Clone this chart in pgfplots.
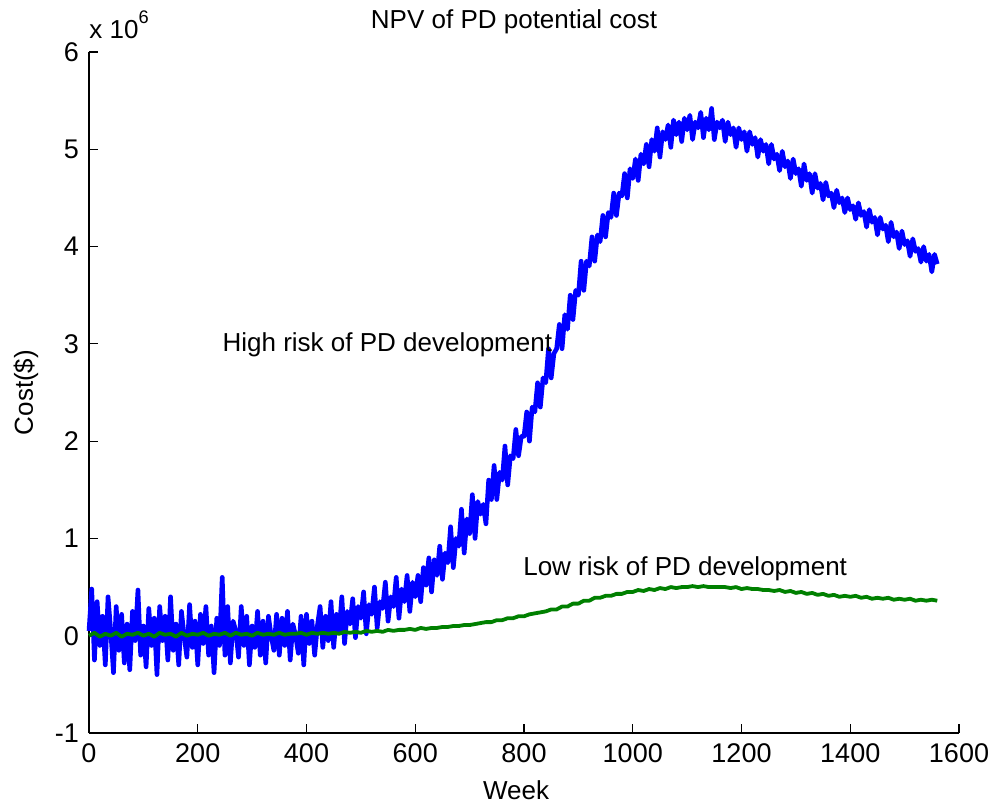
\documentclass[border=0pt]{standalone}
\usepackage{pgfplots}
\pgfplotsset{compat=1.18}
\usepackage{pgfplotstable}
\usepackage{fontspec}
\setmainfont{Liberation Sans}
\definecolor{mblue}{rgb}{0,0,1}
\definecolor{mgreen}{rgb}{0,0.5,0}

\pgfplotstableread{
w v
0 0.05
5 0.48
10 -0.25
15 0.35
20 -0.10
25 0.20
30 -0.30
35 0.40
40 0.05
45 -0.38
50 0.30
55 -0.15
60 0.22
65 -0.28
70 0.12
75 -0.35
80 0.25
85 -0.05
90 0.47
95 -0.20
100 0.10
105 -0.32
110 0.28
115 -0.10
120 0.18
125 -0.40
130 0.30
135 -0.05
140 0.20
145 -0.25
150 0.40
155 -0.15
160 0.12
165 -0.30
170 0.25
175 0.00
180 -0.22
185 0.32
190 -0.12
195 0.15
200 -0.30
205 0.22
210 -0.08
215 0.30
220 -0.20
225 0.10
230 -0.38
235 0.18
240 -0.10
245 0.60
250 -0.20
255 0.30
260 -0.28
265 0.15
270 0.05
275 -0.22
280 0.30
285 -0.10
290 0.20
295 -0.30
300 0.10
305 -0.12
310 0.25
315 -0.20
320 0.15
325 -0.28
330 0.20
335 0.00
340 -0.15
345 0.22
350 -0.20
355 0.18
360 -0.10
365 0.25
370 -0.25
375 0.12
380 0.00
385 -0.18
390 0.20
395 -0.30
400 0.22
405 -0.08
410 0.15
415 -0.20
420 0.10
425 0.30
430 -0.12
435 0.20
440 -0.05
445 0.35
450 -0.12
455 0.22
460 0.05
465 0.40
470 -0.08
475 0.25
480 0.12
485 0.38
490 -0.02
495 0.30
500 0.18
505 0.45
510 0.02
515 0.32
520 0.22
525 0.50
530 0.08
535 0.35
540 0.28
545 0.55
550 0.15
555 0.40
560 0.30
565 0.60
570 0.18
575 0.48
580 0.35
585 0.62
590 0.25
595 0.55
600 0.40
605 0.62
610 0.35
615 0.70
620 0.52
625 0.80
630 0.45
635 0.78
640 0.62
645 0.92
650 0.58
655 0.85
660 0.75
665 1.12
670 0.70
675 1.00
680 0.92
685 1.30
690 0.85
695 1.20
700 1.05
705 1.45
710 1.00
715 1.38
720 1.25
725 1.35
730 1.15
735 1.60
740 1.40
745 1.75
750 1.40
755 1.68
760 1.60
765 1.95
770 1.55
775 1.85
780 1.82
785 2.12
790 1.85
795 2.05
800 2.05
805 2.30
810 2.00
815 2.35
820 2.30
825 2.60
830 2.35
835 2.65
840 2.60
845 2.95
850 2.65
855 2.90
860 2.95
865 3.20
870 2.95
875 3.30
880 3.15
885 3.50
890 3.25
895 3.55
900 3.50
905 3.85
910 3.55
915 3.85
920 3.80
925 4.10
930 3.85
935 4.12
940 4.05
945 4.32
950 4.10
955 4.35
960 4.30
965 4.55
970 4.32
975 4.55
980 4.52
985 4.75
990 4.50
995 4.80
1000 4.70
1005 4.90
1010 4.68
1015 4.95
1020 4.85
1025 5.05
1030 4.82
1035 5.10
1040 4.98
1045 5.22
1050 4.92
1055 5.18
1060 5.10
1065 5.25
1070 5.02
1075 5.30
1080 5.15
1085 5.28
1090 5.08
1095 5.32
1100 5.20
1105 5.35
1110 5.10
1115 5.28
1120 5.22
1125 5.38
1130 5.12
1135 5.32
1140 5.20
1145 5.42
1150 5.10
1155 5.28
1160 5.22
1165 5.30
1170 5.08
1175 5.28
1180 5.15
1185 5.22
1190 5.02
1195 5.22
1200 5.10
1205 5.18
1210 4.98
1215 5.18
1220 5.05
1225 5.12
1230 4.92
1235 5.10
1240 4.98
1245 5.05
1250 4.85
1255 5.05
1260 4.90
1265 4.95
1270 4.78
1275 4.98
1280 4.82
1285 4.88
1290 4.70
1295 4.90
1300 4.75
1305 4.80
1310 4.62
1315 4.85
1320 4.68
1325 4.75
1330 4.55
1335 4.75
1340 4.60
1345 4.65
1350 4.48
1355 4.66
1360 4.52
1365 4.55
1370 4.40
1375 4.58
1380 4.45
1385 4.50
1390 4.35
1395 4.50
1400 4.38
1405 4.42
1410 4.28
1415 4.45
1420 4.32
1425 4.36
1430 4.20
1435 4.38
1440 4.25
1445 4.30
1450 4.12
1455 4.30
1460 4.18
1465 4.22
1470 4.05
1475 4.25
1480 4.10
1485 4.15
1490 3.98
1495 4.16
1500 4.02
1505 4.06
1510 3.90
1515 4.08
1520 3.95
1525 3.98
1530 3.84
1535 4.00
1540 3.85
1545 3.92
1550 3.74
1555 3.92
1560 3.82
}\highrisk

\pgfplotstableread{
w v
0 0.00
10 0.03
20 -0.01
30 0.02
40 0.00
50 0.03
60 -0.01
70 0.02
80 0.01
90 0.03
100 0.00
110 0.02
120 -0.01
130 0.03
140 0.01
150 0.02
160 -0.01
170 0.03
180 0.00
190 0.02
200 0.01
210 0.03
220 0.00
230 0.02
240 0.01
250 0.03
260 0.00
270 0.03
280 0.01
290 0.02
300 0.00
310 0.03
320 0.01
330 0.02
340 0.01
350 0.03
360 0.01
370 0.02
380 0.02
390 0.03
400 0.01
410 0.03
420 0.02
430 0.03
440 0.02
450 0.03
460 0.02
470 0.04
480 0.03
490 0.04
500 0.03
510 0.05
520 0.04
530 0.05
540 0.04
550 0.06
560 0.05
570 0.06
580 0.06
590 0.07
600 0.06
610 0.08
620 0.07
630 0.08
640 0.08
650 0.09
660 0.09
670 0.10
680 0.10
690 0.11
700 0.11
710 0.12
720 0.13
730 0.14
740 0.14
750 0.16
760 0.16
770 0.18
780 0.18
790 0.20
800 0.20
810 0.22
820 0.23
830 0.24
840 0.25
850 0.27
860 0.27
870 0.30
880 0.30
890 0.33
900 0.33
910 0.36
920 0.36
930 0.39
940 0.39
950 0.41
960 0.41
970 0.43
980 0.43
990 0.45
1000 0.45
1010 0.47
1020 0.46
1030 0.48
1040 0.47
1050 0.49
1060 0.48
1070 0.50
1080 0.49
1090 0.50
1100 0.50
1110 0.51
1120 0.50
1130 0.51
1140 0.50
1150 0.50
1160 0.50
1170 0.50
1180 0.49
1190 0.50
1200 0.48
1210 0.49
1220 0.48
1230 0.48
1240 0.47
1250 0.47
1260 0.46
1270 0.47
1280 0.45
1290 0.46
1300 0.44
1310 0.45
1320 0.43
1330 0.44
1340 0.42
1350 0.43
1360 0.41
1370 0.42
1380 0.40
1390 0.41
1400 0.40
1410 0.41
1420 0.39
1430 0.40
1440 0.38
1450 0.39
1460 0.38
1470 0.39
1480 0.37
1490 0.38
1500 0.37
1510 0.38
1520 0.36
1530 0.37
1540 0.36
1550 0.37
1560 0.36
}\lowrisk

\begin{document}
\fontsize{13}{15}\selectfont
\begin{tikzpicture}
\useasboundingbox (-44.5pt,-35.5pt) rectangle (449.5pt,366.5pt);
\begin{axis}[
  at={(0,0)}, anchor=south west,
  scale only axis,
  width=435pt, height=340.5pt,
  xmin=0, xmax=1600, ymin=-1, ymax=6,
  xtick={0,200,...,1600},
  ytick={-1,0,...,6},
  axis x line=bottom, axis y line=left,
  axis line style={-, line width=0.6pt},
  tick align=inside,
  major tick length=4.5pt,
  tick style={black, line width=0.6pt},
  /pgf/number format/assume math mode=true,
  /pgf/number format/1000 sep={},
  ticklabel style={font=\fontsize{13.5}{15}\selectfont},
  xticklabel style={yshift=-1pt},
  yticklabel style={xshift=-0.5pt},
  clip=false,
]
\addplot[mblue, line width=2.3pt, line join=round] table[x=w, y=v] {\highrisk};
\addplot[mgreen, line width=1.9pt, line join=round] table[x=w, y=v] {\lowrisk};
\node[anchor=base west, inner sep=0pt] at (axis cs:245,2.92) {High risk of PD development};
\node[anchor=base west, inner sep=0pt] at (axis cs:798,0.62) {Low risk of PD development};
\node[anchor=base west, inner sep=0pt, yshift=7pt] at (rel axis cs:0,1) {x 10\raisebox{3pt}{\textsuperscript{6}}};
\node[anchor=base, inner sep=0pt, yshift=12pt, xshift=-5pt] at (rel axis cs:0.5,1) {NPV of PD potential cost};
\node[anchor=base, inner sep=0pt, yshift=-33pt, xshift=-4pt] at (rel axis cs:0.5,0) {Week};
\node[xshift=-28pt, anchor=base, inner sep=0pt, rotate=90] at (rel axis cs:0,0.5) {Cost(\$)};
\end{axis}
\end{tikzpicture}
\end{document}
